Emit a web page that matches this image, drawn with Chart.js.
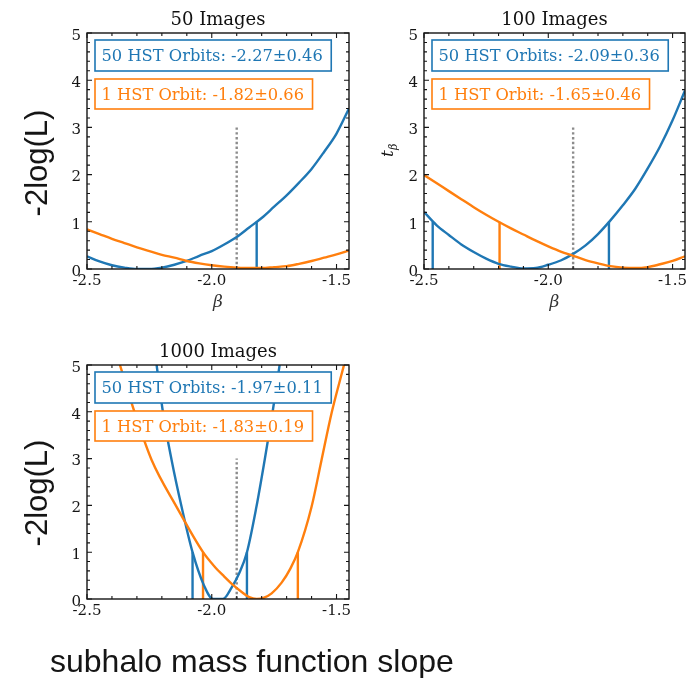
<!DOCTYPE html>
<html lang="en">
<head>
<meta charset="UTF-8">
<title>Subhalo mass function slope</title>
<script src="https://cdn.jsdelivr.net/npm/chart.js@4.4.0/dist/chart.umd.min.js"></script>
<style>
    body { margin: 0; padding: 0; background: #fff; }
    .wrap { position: relative; width: 700px; height: 678px; }
    canvas { position: absolute; }
    #c1 { left: 0; top: 0; }
    #c2 { left: 360px; top: 0; }
    #c3 { left: 0; top: 332px; }
</style>
</head>
<body>
<div class="wrap">
    <canvas id="c1" width="360" height="320"></canvas>
    <canvas id="c2" width="340" height="320"></canvas>
    <canvas id="c3" width="470" height="346"></canvas>
</div>
<script>
// beta grid shared by the 50 and 100 image panels
var betaGrid = [-2.50, -2.45, -2.40, -2.35, -2.30, -2.25, -2.20, -2.15, -2.10, -2.05, -2.00,
                -1.95, -1.90, -1.85, -1.80, -1.75, -1.70, -1.65, -1.60, -1.55, -1.50, -1.45];

// 50 images
var p1Blue   = [0.27, 0.16, 0.08, 0.03, 0.00, 0.00, 0.03, 0.09, 0.17, 0.28, 0.38,
                0.52, 0.68, 0.88, 1.08, 1.32, 1.56, 1.83, 2.12, 2.48, 2.87, 3.40];
var p1Orange = [0.84, 0.74, 0.64, 0.55, 0.46, 0.38, 0.30, 0.24, 0.17, 0.12, 0.08,
                0.05, 0.03, 0.02, 0.02, 0.04, 0.06, 0.11, 0.17, 0.24, 0.31, 0.39];
var p1BlueSigma = [-1.82];
var p1OrangeSigma = [];

// 100 images
var p2Blue   = [1.21, 0.93, 0.72, 0.52, 0.36, 0.22, 0.11, 0.05, 0.01, 0.02, 0.09,
                0.18, 0.32, 0.50, 0.74, 1.03, 1.35, 1.70, 2.13, 2.60, 3.15, 3.78];
var p2Orange = [1.99, 1.82, 1.65, 1.48, 1.31, 1.15, 1.00, 0.86, 0.73, 0.60, 0.48,
                0.37, 0.28, 0.19, 0.12, 0.06, 0.03, 0.02, 0.04, 0.10, 0.17, 0.27];
var p2BlueSigma = [-2.465, -1.756];
var p2OrangeSigma = [-2.196];

// 1000 images
var p3BlueBeta   = [-2.221, -2.195, -2.161, -2.121, -2.077, -2.032, -1.995, -1.955, -1.92, -1.89, -1.859, -1.821, -1.788, -1.757, -1.728];
var p3Blue       = [5.0, 3.97, 2.97, 1.97, 1.0, 0.30, 0.0, 0.0, 0.25, 0.55, 1.0, 1.97, 2.97, 3.97, 5.0];
var p3OrangeBeta = [-2.368, -2.308, -2.241, -2.141, -2.035, -1.99, -1.95, -1.915, -1.88, -1.85, -1.82, -1.79, -1.76, -1.72, -1.685, -1.655, -1.60, -1.56, -1.52, -1.47];
var p3Orange     = [5.0, 3.97, 2.97, 1.97, 1.0, 0.70, 0.48, 0.30, 0.15, 0.04, 0.0, 0.03, 0.12, 0.35, 0.65, 1.0, 1.97, 2.97, 3.97, 5.0];
var p3BlueSigma = [-2.077, -1.859];
var p3OrangeSigma = [-2.035, -1.655];

var xTicks = [-2.5, -2.0, -1.5];
var yTicks = [0, 1, 2, 3, 4, 5];
var trueBeta = -1.9;
var trueLineTop = 3;
var sigmaLevel = 1;

var panelTitles = ['50 Images', '100 Images', '1000 Images'];
var blueLabels = ['50 HST Orbits: -2.27\u00b10.46', '50 HST Orbits: -2.09\u00b10.36', '50 HST Orbits: -1.97\u00b10.11'];
var orangeLabels = ['1 HST Orbit: -1.82\u00b10.66', '1 HST Orbit: -1.65\u00b10.46', '1 HST Orbit: -1.83\u00b10.19'];

var BLUE = '#1f77b4';
var ORANGE = '#ff7f0e';
var INK = '#151515';
var tickFont = { family: 'DejaVu Serif', size: 15 };

function zip(xs, ys) {
    return xs.map(function (x, i) { return { x: x, y: ys[i] }; });
}

function curve(xs, ys, color) {
    return { data: zip(xs, ys), borderColor: color, borderWidth: 2.4, pointRadius: 0, showLine: true,
             cubicInterpolationMode: 'monotone' };
}

function sigmaLines(list, color) {
    return list.map(function (b) {
        return { data: [{ x: b, y: 0 }, { x: b, y: sigmaLevel }], borderColor: color, borderWidth: 2.4, pointRadius: 0, showLine: true };
    });
}

function legendBox(ctx, a, text, color, top, h, base) {
    ctx.font = '16.3px "DejaVu Serif"';
    var w = ctx.measureText(text).width;
    ctx.fillStyle = '#fff';
    ctx.fillRect(a.left + 8, a.top + top, w + 15, h);
    ctx.strokeStyle = color;
    ctx.lineWidth = 1.6;
    ctx.strokeRect(a.left + 8, a.top + top, w + 15, h);
    ctx.fillStyle = color;
    ctx.textAlign = 'left';
    ctx.textBaseline = 'alphabetic';
    ctx.fillText(text, a.left + 14.5, a.top + base);
}

function decor(p) {
    return {
        id: 'decor',
        afterDatasetsDraw: function (chart) {
            var ctx = chart.ctx, a = chart.chartArea;
            var xs = chart.scales.x, ys = chart.scales.y;
            ctx.save();

            legendBox(ctx, a, blueLabels[p.n], BLUE, 7, 31, 28);
            legendBox(ctx, a, orangeLabels[p.n], ORANGE, 46, 30, 66.5);

            // frame with inward ticks on all four sides
            ctx.strokeStyle = INK;
            ctx.lineWidth = 1.4;
            ctx.strokeRect(a.left, a.top, a.right - a.left, a.bottom - a.top);
            ctx.beginPath();
            for (var i = 0; i <= 10; i++) {
                var px = xs.getPixelForValue(-2.5 + i * 0.1);
                var len = i % 5 === 0 ? 5 : 3;
                ctx.moveTo(px, a.bottom); ctx.lineTo(px, a.bottom - len);
                ctx.moveTo(px, a.top); ctx.lineTo(px, a.top + len);
            }
            for (var j = 0; j <= 25; j++) {
                var py = ys.getPixelForValue(j * 0.2);
                var l2 = j % 5 === 0 ? 5 : 3;
                ctx.moveTo(a.left, py); ctx.lineTo(a.left + l2, py);
                ctx.moveTo(a.right, py); ctx.lineTo(a.right - l2, py);
            }
            ctx.lineWidth = 1.1;
            ctx.stroke();

            // panel title
            ctx.fillStyle = '#111';
            ctx.font = '18px "DejaVu Serif"';
            ctx.textAlign = 'center';
            ctx.textBaseline = 'alphabetic';
            ctx.fillText(panelTitles[p.n], (a.left + a.right) / 2, a.top - 8.5);

            if (p.beta) {
                ctx.font = 'italic 17px "DejaVu Serif"';
                ctx.fillStyle = '#333';
                ctx.textBaseline = 'middle';
                ctx.fillText('\u03b2', (a.left + a.right) / 2, a.bottom + 34);
            }
            if (p.extra) p.extra(ctx, a);
            ctx.restore();
        }
    };
}

function bigYLabel(x, y) {
    return function (ctx) {
        ctx.save();
        ctx.translate(x, y);
        ctx.rotate(-Math.PI / 2);
        ctx.font = '31px "Liberation Sans"';
        ctx.fillStyle = INK;
        ctx.textAlign = 'center';
        ctx.textBaseline = 'alphabetic';
        ctx.fillText('-2log(L)', 0, 0);
        ctx.restore();
    };
}

function makePanel(id, p, datasets) {
    return new Chart(document.getElementById(id), {
        type: 'scatter',
        data: { datasets: datasets },
        options: {
            responsive: false,
            animation: false,
            layout: { padding: { top: 33, right: p.padRight, bottom: 0, left: 0 } },
            plugins: { legend: { display: false }, tooltip: { enabled: false }, title: { display: false } },
            scales: {
                x: {
                    type: 'linear', min: -2.5, max: -1.45,
                    grid: { display: false, drawTicks: false }, border: { display: false },
                    afterBuildTicks: function (s) { s.ticks = xTicks.map(function (v) { return { value: v }; }); },
                    afterFit: function (s) { s.height = p.xHeight; },
                    ticks: {
                        font: tickFont, color: INK, padding: 3, maxRotation: 0, autoSkip: false,
                        callback: function (v) { return Number(v).toFixed(1); }
                    }
                },
                y: {
                    type: 'linear', min: 0, max: 5,
                    grid: { display: false, drawTicks: false }, border: { display: false },
                    afterBuildTicks: function (s) { s.ticks = yTicks.map(function (v) { return { value: v }; }); },
                    afterFit: function (s) { s.width = p.yWidth; },
                    ticks: {
                        font: tickFont, color: INK, padding: 6, labelOffset: 3, autoSkip: false,
                        callback: function (v) { return String(v); }
                    }
                }
            }
        },
        plugins: [decor(p)]
    });
}

function truthLine() {
    return { data: [{ x: trueBeta, y: 0 }, { x: trueBeta, y: trueLineTop }], borderColor: '#8c8c8c', borderWidth: 2.4,
             borderDash: [2.4, 2.4], pointRadius: 0, showLine: true };
}

makePanel('c1', { n: 0, padRight: 11, xHeight: 51, yWidth: 87, beta: true, extra: bigYLabel(47, 163) },
    [curve(betaGrid, p1Orange, ORANGE), curve(betaGrid, p1Blue, BLUE)]
        .concat(sigmaLines(p1OrangeSigma, ORANGE), sigmaLines(p1BlueSigma, BLUE), [truthLine()]));

makePanel('c2', { n: 1, padRight: 15, xHeight: 51, yWidth: 64, beta: true,
    extra: function (ctx) {
        ctx.save();
        ctx.translate(33, 145);
        ctx.rotate(-Math.PI / 2);
        ctx.fillStyle = INK;
        ctx.textAlign = 'left';
        ctx.textBaseline = 'alphabetic';
        ctx.font = 'italic 17px "DejaVu Serif"';
        ctx.fillText('t', -12, 0);
        ctx.font = 'italic 11px "DejaVu Serif"';
        ctx.fillText('\u03b2', -5, 4);
        ctx.restore();
    } },
    [curve(betaGrid, p2Orange, ORANGE), curve(betaGrid, p2Blue, BLUE)]
        .concat(sigmaLines(p2OrangeSigma, ORANGE), sigmaLines(p2BlueSigma, BLUE), [truthLine()]));

makePanel('c3', { n: 2, padRight: 121, xHeight: 79, yWidth: 87, beta: false,
    extra: function (ctx) {
        bigYLabel(47, 161)(ctx);
        ctx.font = '32px "Liberation Sans"';
        ctx.fillStyle = INK;
        ctx.textAlign = 'left';
        ctx.textBaseline = 'alphabetic';
        ctx.fillText('subhalo mass function slope', 50, 339.5);
    } },
    [curve(p3OrangeBeta, p3Orange, ORANGE), curve(p3BlueBeta, p3Blue, BLUE)]
        .concat(sigmaLines(p3OrangeSigma, ORANGE), sigmaLines(p3BlueSigma, BLUE), [truthLine()]));
</script>
</body>
</html>
